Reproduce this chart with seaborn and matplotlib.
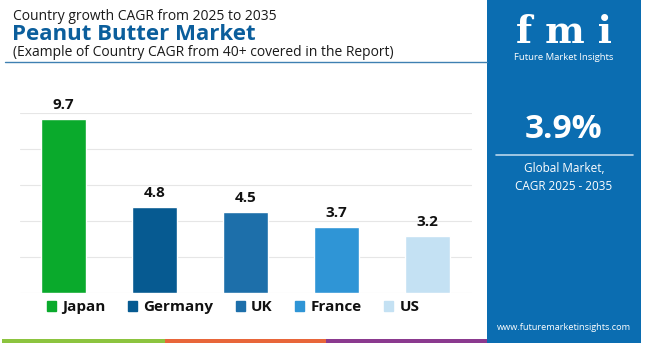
import matplotlib
matplotlib.use("Agg")
import matplotlib.pyplot as plt
from matplotlib.patches import Rectangle, Patch
from matplotlib.lines import Line2D
import seaborn as sns
import pandas as pd

# ---- data ----
countries = ["Japan", "Germany", "UK", "France", "US"]
cagr = [9.7, 4.8, 4.5, 3.7, 3.2]
colors = ["#0aaa2c", "#065a91", "#1d6faa", "#2f95d6", "#c4e1f3"]
title_top = "Country growth CAGR from 2025 to 2035"
title_main = "Peanut Butter Market"
title_sub = "(Example of Country CAGR from 40+ covered in the Report)"
global_cagr = "3.9%"
global_label = "Global Market,\nCAGR 2025 - 2035"
website = "www.futuremarketinsights.com"

sns.set_theme(style="white")
plt.rcParams['font.family'] = ['Open Sans', 'DejaVu Sans']

W, H = 650, 343
fig = plt.figure(figsize=(W / 100, H / 100), dpi=100)
fig.patch.set_facecolor("white")

def fx(px):
    return px / W

def fy(py):
    return 1 - py / H

# ---- bar chart ----
ax = fig.add_axes([fx(20), fy(293.3), fx(452), (293.3 - 113.3) / H])
df = pd.DataFrame({"country": countries, "cagr": cagr})
sns.barplot(data=df, x="country", y="cagr", hue="country", palette=colors,
            order=countries, hue_order=countries, width=0.5, legend=False,
            saturation=1, ax=ax, zorder=3)
ax.set_ylim(0, 10)
ax.set_xlim(-0.48, 4.49)
ax.set_yticks([0, 2, 4, 6, 8, 10])
ax.yaxis.grid(True, color="#e6e6e6", linewidth=0.8, zorder=0)
ax.set_axisbelow(True)
ax.set_xticks([])
ax.set_yticklabels([])
ax.tick_params(left=False, bottom=False)
ax.set_xlabel("")
ax.set_ylabel("")
for s in ax.spines.values():
    s.set_visible(False)
ax.patch.set_alpha(0)

for i, v in enumerate(cagr):
    ax.annotate(f"{v}", (i, v), xytext=(0, 5), textcoords="offset points",
                ha="center", va="bottom", fontsize=11, fontweight="bold",
                color="#111111")

handles = [Patch(facecolor=c, edgecolor=c) for c in colors]
leg = fig.legend(handles, countries, loc="center", ncol=5,
                 bbox_to_anchor=(fx(233), fy(307)), frameon=False,
                 handlelength=0.62, handleheight=0.62, handletextpad=0.4,
                 columnspacing=1.45, prop={"weight": "bold", "size": 11})
for t in leg.get_texts():
    t.set_color("#111111")

# ---- titles ----
fig.text(fx(13), fy(16), title_top, fontsize=10, color="#1a1a1a",
         va="center", ha="left")
fig.text(fx(12), fy(35), title_main, fontsize=16, fontweight="bold",
         color="#0b5e9c", va="center", ha="left")
fig.text(fx(13), fy(53), title_sub, fontsize=10, color="#1a1a1a",
         va="center", ha="left")
fig.add_artist(Line2D([fx(5), fx(487)], [fy(62), fy(62)], color="#3f80b2",
                      linewidth=1.0))

# ---- bottom strip ----
for x0, x1, c in [(2, 165, "#8cc43f"), (165, 326, "#e8663a"), (326, 487, "#8b3a8f")]:
    fig.add_artist(Rectangle((fx(x0), 0), fx(x1 - x0), 4 / H, color=c, lw=0))

# ---- right panel ----
fig.add_artist(Rectangle((fx(487), 0), fx(641 - 487), 1, color="#0b6db1", lw=0))
cx = fx(564)
fig.text(cx, fy(43), "f m i", fontsize=27, fontweight="bold", color="white",
         ha="center", va="baseline", family=["DejaVu Serif"])
fig.text(cx, fy(57), "Future Market Insights", fontsize=6.8, color="white",
         ha="center", va="center")
fig.text(cx, fy(129), global_cagr, fontsize=24, fontweight="bold", color="white",
         ha="center", va="center")
fig.add_artist(Line2D([fx(496), fx(633)], [fy(155), fy(155)], color="#b9d6ec",
                      linewidth=1.2))
fig.text(cx, fy(177), global_label, fontsize=8.5, color="white",
         ha="center", va="center", linespacing=1.5)
fig.text(cx, fy(328), website, fontsize=6.6, color="white",
         ha="center", va="center")

fig.savefig("out.png", dpi=100, facecolor="white")
